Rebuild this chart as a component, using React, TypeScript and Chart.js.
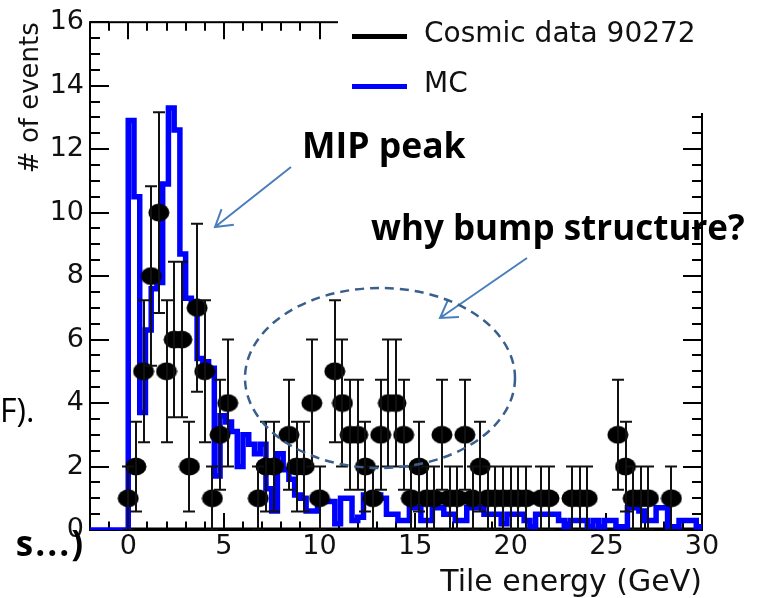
import React, { useEffect, useRef } from "react";
import { Chart, registerables } from "chart.js";
Chart.register(...registerables);

// ---------------- data ----------------
const xTickLabels = [0, 5, 10, 15, 20, 25, 30];
const yTickLabels = [0, 2, 4, 6, 8, 10, 12, 14, 16];
const xRange = [-2, 30];
const yRange = [0, 16];
const xMinorStep = 1;
const yMinorStep = 0.5;

const seriesLabels = ["Cosmic data 90272", "MC"];
const axisTitles = ["Tile energy (GeV)", "# of events"];

// Cosmic data: counts in 0.4 GeV bins, centres at 0, 0.4, 0.8, ...
const dataBinWidth = 0.4;
const dataFirstCentre = 0;
const dataZeroLine = [0, 30];
const cosmicCounts = [
  1, 2, 5, 8, 10, 5, 6, 6, 2, 7,
  5, 1, 3, 4, 0, 0, 0, 1, 2, 2,
  0, 3, 2, 2, 4, 1, 0, 5, 4, 3,
  3, 2, 1, 3, 4, 4, 3, 1, 2, 1,
  1, 3, 1, 1, 3, 1, 2, 1, 1, 1,
  1, 1, 1, 0, 1, 1, 0, 0, 1, 1,
  1, 0, 0, 0, 3, 2, 1, 1, 1, 0,
  0, 1, 0, 0, 0,
];

// MC: normalised histogram in 0.3 GeV bins starting at 0
const mcBinWidth = 0.3;
const mcFirstEdge = 0;
const mcValues = [
  12.9, 10.5, 3.7, 6.3, 7.6, 7.8, 10.9, 13.3, 12.6, 8.7,
  7.3, 7.2, 5.4, 5.3, 5.1, 1.7, 3.6, 3.4, 3.1, 2.0,
  3.0, 2.7, 2.4, 2.7, 1.3, 0.6, 2.4, 1.9, 1.6, 1.1,
  1.0, 0.6, 0.6, 1.0, 0.9, 0.9, 0.2, 1.0, 1.0, 0.3,
  0.4, 1.1, 1.1, 1.1, 1.0, 0.5, 0.5, 0.3, 0.3, 0.7,
  0.7, 0.3, 0.3, 0.7, 0.7, 0.5, 0.5, 0.3, 0.3, 0.7,
  0.7, 0.7, 0.5, 0.5, 0.5, 0.2, 0.5, 0.5, 0.5, 0.3,
  0.1, 0.5, 0.5, 0.5, 0.5, 0.3, 0.1, 0.3, 0.3, 0.3,
  0.1, 0.3, 0.1, 0.3, 0.3, 0.1, 0.1, 0.7, 0.7, 0.6,
  0.3, 0.3, 0.7, 0.7, 0.1, 0.1, 0.3, 0.3, 0.3, 0.1,
];

const annotationTexts = ["MIP peak", "why bump structure?"];
const slideFragments = ["F).", "s...)"];

// ---------------- styling ----------------
const W = 765;
const H = 598;
const AREA = { left: 90, top: 18, right: 702, bottom: 530 };
const TICK_FONT = "DejaVu Sans";
const TEXT_COLOR = "#111111";
const MC_COLOR = "#0000ff";
const ARROW_COLOR = "#4a7ebb";
const ELLIPSE_COLOR = "#3a5f8c";

function buildMcPoints() {
  const pts = [{ x: xRange[0], y: 0 }];
  mcValues.forEach((v, i) => pts.push({ x: mcFirstEdge + i * mcBinWidth, y: v }));
  pts.push({ x: mcFirstEdge + mcValues.length * mcBinWidth, y: mcValues[mcValues.length - 1] });
  return pts;
}

function buildDataPoints() {
  const pts: { x: number; y: number }[] = [];
  cosmicCounts.forEach((n, k) => {
    if (n > 0) pts.push({ x: dataFirstCentre + k * dataBinWidth, y: n });
  });
  return pts;
}

const frameTicksPlugin = {
  id: "frameTicks",
  beforeDatasetsDraw(chart: any) {
    const { ctx, chartArea: a, scales } = chart;
    const xs = scales.x;
    const ys = scales.y;
    ctx.save();
    ctx.strokeStyle = "#000";
    ctx.lineWidth = 2;
    ctx.strokeRect(a.left, a.top, a.right - a.left, a.bottom - a.top);
    ctx.beginPath();
    for (let v = Math.ceil(xs.min); v <= xs.max + 1e-9; v += xMinorStep) {
      const px = Math.round(xs.getPixelForValue(v));
      const major = Math.abs(v % 5) < 1e-9;
      const len = major ? 17 : 8.5;
      ctx.moveTo(px, a.bottom);
      ctx.lineTo(px, a.bottom - len);
      ctx.moveTo(px, a.top);
      ctx.lineTo(px, a.top + len);
    }
    for (let v = ys.min; v <= ys.max + 1e-9; v += yMinorStep) {
      const py = Math.round(ys.getPixelForValue(v));
      const major = Math.abs(v % 2) < 1e-9;
      const len = major ? 19 : 10;
      ctx.moveTo(a.left, py);
      ctx.lineTo(a.left + len, py);
      ctx.moveTo(a.right, py);
      ctx.lineTo(a.right - len, py);
    }
    ctx.stroke();
    ctx.restore();
  },
};

const errorBarPlugin = {
  id: "errorBars",
  afterDatasetsDraw(chart: any) {
    const { ctx, chartArea: a, scales } = chart;
    const xs = scales.x;
    const ys = scales.y;
    ctx.save();
    ctx.beginPath();
    ctx.rect(a.left, a.top, a.right - a.left, a.bottom - a.top);
    ctx.clip();
    ctx.strokeStyle = "#111";
    ctx.lineWidth = 2;
    ctx.beginPath();
    cosmicCounts.forEach((n, k) => {
      if (n <= 0) return;
      const e = Math.sqrt(n);
      const px = Math.round(xs.getPixelForValue(dataFirstCentre + k * dataBinWidth));
      const top = ys.getPixelForValue(n + e);
      const bot = ys.getPixelForValue(Math.max(n - e, 0));
      ctx.moveTo(px, top);
      ctx.lineTo(px, bot);
      ctx.moveTo(px - 6, top);
      ctx.lineTo(px + 6, top);
      ctx.moveTo(px - 6, bot);
      ctx.lineTo(px + 6, bot);
    });
    ctx.stroke();
    ctx.restore();
  },
};

function drawArrow(ctx: CanvasRenderingContext2D, x1: number, y1: number, x2: number, y2: number) {
  const ang = Math.atan2(y2 - y1, x2 - x1);
  const hl = 19;
  const ha = 0.55;
  ctx.beginPath();
  ctx.moveTo(x1, y1);
  ctx.lineTo(x2, y2);
  ctx.moveTo(x2 - hl * Math.cos(ang - ha), y2 - hl * Math.sin(ang - ha));
  ctx.lineTo(x2, y2);
  ctx.lineTo(x2 - hl * Math.cos(ang + ha), y2 - hl * Math.sin(ang + ha));
  ctx.stroke();
}

const overlayPlugin = {
  id: "overlay",
  afterDraw(chart: any) {
    const ctx: CanvasRenderingContext2D = chart.ctx;
    const ds = chart.data.datasets;
    ctx.save();
    // legend box
    ctx.fillStyle = "#ffffff";
    ctx.fillRect(338, 0, W - 338, 113);
    const entries = [
      { label: ds[2].label, color: "#000000", y: 36.5 },
      { label: ds[1].label, color: MC_COLOR, y: 86.5 },
    ];
    entries.forEach((e) => {
      ctx.strokeStyle = e.color;
      ctx.lineWidth = 5;
      ctx.beginPath();
      ctx.moveTo(352, e.y);
      ctx.lineTo(407, e.y);
      ctx.stroke();
      ctx.fillStyle = TEXT_COLOR;
      ctx.font = `28px "${TICK_FONT}"`;
      ctx.textBaseline = "middle";
      ctx.textAlign = "left";
      ctx.fillText(e.label, 424, e.y - 2);
    });

    // annotations
    ctx.fillStyle = "#000";
    ctx.textBaseline = "alphabetic";
    ctx.font = `bold 35.5px "Open Sans"`;
    ctx.fillText(annotationTexts[0], 302, 158);
    ctx.font = `bold 35px "Open Sans"`;
    ctx.fillText(annotationTexts[1], 371, 240);

    ctx.strokeStyle = ARROW_COLOR;
    ctx.lineWidth = 2;
    drawArrow(ctx, 291, 167, 215, 227);
    drawArrow(ctx, 527, 258, 440, 318);

    ctx.strokeStyle = ELLIPSE_COLOR;
    ctx.lineWidth = 2.5;
    ctx.setLineDash([9, 6]);
    ctx.beginPath();
    ctx.ellipse(380, 378, 135, 90, 0, 0, Math.PI * 2);
    ctx.stroke();
    ctx.setLineDash([]);

    // fragments of surrounding slide text
    ctx.fillStyle = "#000";
    ctx.font = `32px "Open Sans"`;
    ctx.textAlign = "left";
    ctx.fillText(slideFragments[0], 0, 422);
    ctx.font = `bold 35px "Open Sans"`;
    ctx.textAlign = "right";
    (ctx as any).letterSpacing = "2px";
    ctx.fillText(slideFragments[1], 85, 556);
    (ctx as any).letterSpacing = "0px";
    ctx.restore();
  },
};

export default function App() {
  const ref = useRef<HTMLCanvasElement | null>(null);

  useEffect(() => {
    document.body.style.margin = "0";
    const canvas = ref.current;
    if (!canvas) return;

    const dot = document.createElement("canvas");
    dot.width = 22;
    dot.height = 19;
    const dctx = dot.getContext("2d")!;
    dctx.fillStyle = "#000";
    dctx.beginPath();
    dctx.ellipse(11, 9.5, 10.5, 9, 0, 0, Math.PI * 2);
    dctx.fill();

    const chart = new Chart(canvas, {
      type: "scatter",
      data: {
        datasets: [
          {
            type: "line",
            label: "zero",
            data: dataZeroLine.map((x) => ({ x, y: 0 })),
            borderColor: "#000",
            borderWidth: 5,
            pointRadius: 0,
            order: 3,
          } as any,
          {
            type: "line",
            label: seriesLabels[1],
            data: buildMcPoints(),
            borderColor: MC_COLOR,
            borderWidth: 5.5,
            stepped: "before",
            pointRadius: 0,
            borderJoinStyle: "miter",
            borderCapStyle: "butt",
            fill: false,
            order: 2,
          } as any,
          {
            type: "scatter",
            label: seriesLabels[0],
            data: buildDataPoints(),
            pointStyle: dot as any,
            pointRadius: 10,
            backgroundColor: "#000",
            borderColor: "#000",
            showLine: false,
            order: 1,
          } as any,
        ],
      },
      options: {
        responsive: false,
        animation: false,
        events: [],
        layout: {
          padding: { left: 0, top: AREA.top, right: W - AREA.right, bottom: 0 },
        },
        plugins: {
          legend: { display: false },
          tooltip: { enabled: false },
        },
        scales: {
          x: {
            type: "linear",
            position: "bottom",
            min: xRange[0],
            max: xRange[1],
            afterBuildTicks: (s: any) => {
              s.ticks = xTickLabels.map((v) => ({ value: v }));
            },
            afterFit: (s: any) => {
              s.height = H - AREA.bottom;
            },
            grid: { display: false, drawTicks: false },
            border: { display: false },
            ticks: {
              font: { family: TICK_FONT, size: 27 },
              color: TEXT_COLOR,
              padding: 1,
              maxRotation: 0,
              autoSkip: false,
            },
            title: {
              display: true,
              text: axisTitles[0],
              align: "end",
              color: TEXT_COLOR,
              font: { family: TICK_FONT, size: 30, lineHeight: 1 },
              padding: { top: 0, bottom: 0 },
            },
          },
          y: {
            type: "linear",
            min: yRange[0],
            max: yRange[1],
            afterBuildTicks: (s: any) => {
              s.ticks = yTickLabels.map((v) => ({ value: v }));
            },
            afterFit: (s: any) => {
              s.width = AREA.left;
            },
            grid: { display: false, drawTicks: false },
            border: { display: false },
            ticks: {
              font: { family: TICK_FONT, size: 27 },
              color: TEXT_COLOR,
              padding: 6,
              autoSkip: false,
            },
            title: {
              display: true,
              text: axisTitles[1],
              align: "end",
              color: TEXT_COLOR,
              font: { family: TICK_FONT, size: 26, lineHeight: 1 },
              padding: { top: 18, bottom: 0 },
            },
          },
        },
      } as any,
      plugins: [frameTicksPlugin, errorBarPlugin, overlayPlugin],
    });
    return () => chart.destroy();
  }, []);

  return (
    <div style={{ position: "relative", width: W, height: H }}>
      <canvas ref={ref} width={W} height={H} style={{ display: "block" }} />
    </div>
  );
}
